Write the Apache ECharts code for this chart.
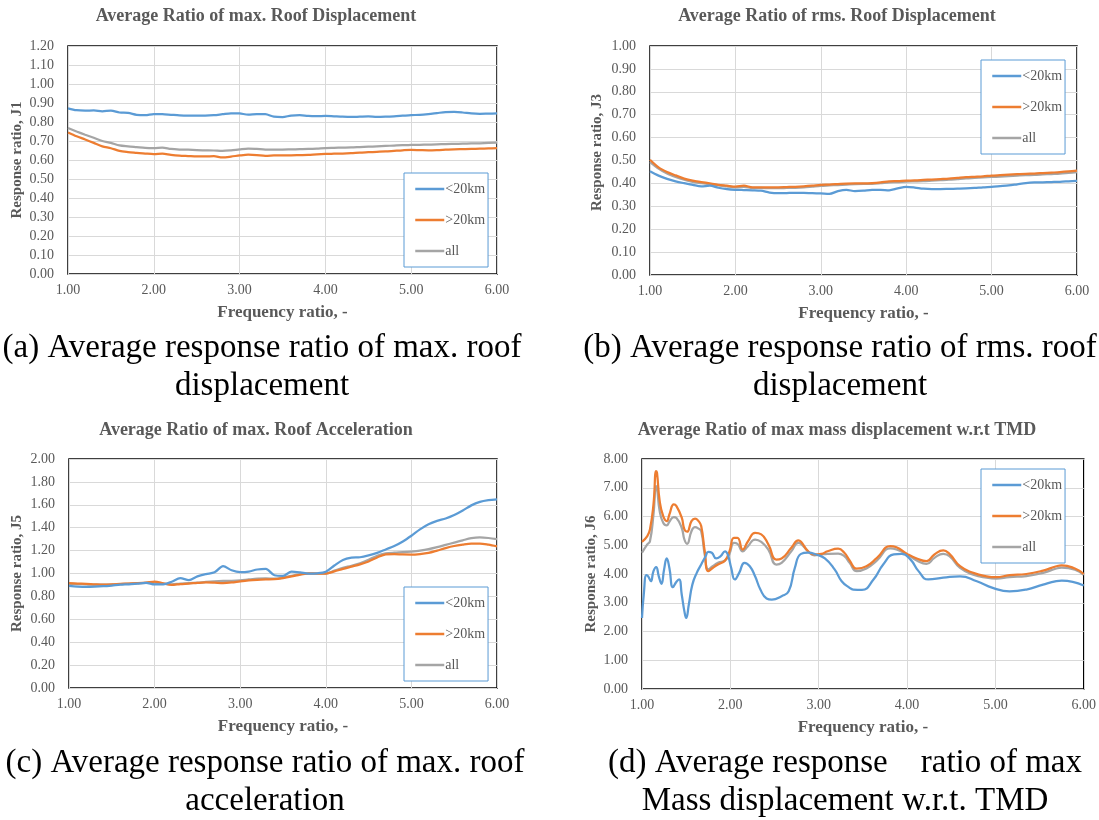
<!DOCTYPE html>
<html>
<head>
<meta charset="utf-8">
<script src="https://cdn.jsdelivr.net/npm/echarts@6/dist/echarts.min.js"></script>
<style>
html,body{margin:0;padding:0;background:#fff;}
#chart{width:1099px;height:820px;}
</style>
</head>
<body>
<div id="chart"></div>
<script>
// ---------- data ----------
const SERIES_NAMES = ['<20km', '>20km', 'all'];
const FREQ = [1.0,1.1,1.2,1.3,1.4,1.5,1.6,1.7,1.8,1.9,2.0,2.1,2.2,2.3,2.4,2.5,2.6,2.7,2.8,2.9,3.0,3.1,3.2,3.3,3.4,3.5,3.6,3.7,3.8,3.9,4.0,4.1,4.2,4.3,4.4,4.5,4.6,4.7,4.8,4.9,5.0,5.1,5.2,5.3,5.4,5.5,5.6,5.7,5.8,5.9,6.0];

// (a) max roof displacement J1
const A_NEAR = [0.872,0.862,0.860,0.861,0.856,0.860,0.850,0.848,0.838,0.836,0.842,0.841,0.838,0.835,0.834,0.834,0.834,0.836,0.841,0.846,0.845,0.839,0.842,0.841,0.828,0.826,0.834,0.836,0.832,0.831,0.832,0.830,0.828,0.827,0.828,0.829,0.827,0.828,0.830,0.833,0.836,0.838,0.842,0.847,0.852,0.853,0.850,0.845,0.843,0.844,0.845];
const A_FAR = [0.745,0.725,0.708,0.690,0.672,0.662,0.648,0.642,0.638,0.634,0.631,0.633,0.627,0.623,0.621,0.619,0.619,0.620,0.614,0.618,0.624,0.628,0.626,0.622,0.624,0.625,0.625,0.626,0.627,0.630,0.632,0.633,0.634,0.636,0.639,0.641,0.643,0.645,0.648,0.651,0.653,0.652,0.651,0.652,0.654,0.656,0.657,0.658,0.660,0.661,0.663];
const A_ALL = [0.768,0.750,0.733,0.717,0.700,0.690,0.677,0.672,0.668,0.664,0.663,0.665,0.658,0.655,0.654,0.652,0.651,0.650,0.648,0.651,0.656,0.660,0.658,0.655,0.655,0.655,0.656,0.657,0.658,0.660,0.663,0.664,0.665,0.666,0.668,0.670,0.672,0.674,0.676,0.678,0.679,0.680,0.681,0.682,0.684,0.685,0.686,0.687,0.688,0.690,0.691];

// (b) rms roof displacement J3
const B_NEAR = [0.453,0.434,0.420,0.409,0.401,0.394,0.387,0.390,0.381,0.375,0.372,0.371,0.370,0.368,0.360,0.357,0.358,0.359,0.359,0.357,0.356,0.354,0.366,0.372,0.366,0.368,0.372,0.372,0.370,0.378,0.385,0.382,0.377,0.375,0.375,0.376,0.377,0.378,0.380,0.383,0.385,0.388,0.391,0.396,0.401,0.404,0.405,0.406,0.407,0.409,0.411];
const B_FAR = [0.503,0.470,0.450,0.435,0.421,0.412,0.406,0.400,0.394,0.390,0.386,0.390,0.383,0.383,0.383,0.383,0.384,0.385,0.387,0.390,0.394,0.395,0.397,0.399,0.400,0.400,0.401,0.404,0.409,0.410,0.412,0.413,0.415,0.417,0.419,0.421,0.424,0.427,0.429,0.431,0.434,0.436,0.438,0.440,0.442,0.443,0.445,0.447,0.449,0.452,0.456];
const B_ALL = [0.493,0.465,0.443,0.428,0.416,0.407,0.401,0.396,0.391,0.387,0.383,0.385,0.380,0.380,0.379,0.379,0.380,0.381,0.383,0.386,0.389,0.391,0.393,0.395,0.397,0.398,0.398,0.401,0.405,0.406,0.408,0.409,0.410,0.412,0.414,0.416,0.419,0.422,0.424,0.426,0.428,0.430,0.432,0.434,0.436,0.437,0.439,0.441,0.443,0.446,0.449];

// (c) max roof acceleration J5
const C_NEAR = [0.892,0.886,0.883,0.885,0.889,0.895,0.902,0.906,0.912,0.918,0.904,0.905,0.928,0.960,0.942,0.975,0.995,1.010,1.065,1.028,1.012,1.017,1.035,1.040,0.985,0.980,1.016,1.010,1.000,1.002,1.015,1.070,1.118,1.138,1.142,1.158,1.180,1.210,1.240,1.280,1.330,1.385,1.430,1.460,1.480,1.510,1.550,1.595,1.625,1.640,1.648];
const C_FAR = [0.915,0.912,0.910,0.906,0.903,0.905,0.909,0.912,0.915,0.920,0.930,0.915,0.900,0.908,0.912,0.918,0.922,0.920,0.917,0.922,0.932,0.940,0.945,0.948,0.950,0.960,0.974,0.990,1.002,1.000,1.000,1.018,1.040,1.060,1.080,1.105,1.140,1.168,1.170,1.166,1.165,1.170,1.180,1.200,1.222,1.240,1.252,1.261,1.262,1.252,1.237];
const C_ALL = [0.910,0.908,0.905,0.902,0.902,0.904,0.907,0.911,0.915,0.918,0.920,0.912,0.905,0.912,0.915,0.920,0.927,0.932,0.935,0.936,0.940,0.948,0.955,0.957,0.955,0.965,0.980,0.992,1.000,1.000,1.000,1.025,1.050,1.068,1.090,1.120,1.155,1.175,1.182,1.186,1.192,1.200,1.212,1.230,1.250,1.270,1.290,1.308,1.315,1.310,1.300];

// (d) max mass displacement w.r.t. TMD J6
const D_FREQ = [1.00,1.06,1.09,1.13,1.16,1.17,1.20,1.24,1.28,1.31,1.36,1.39,1.45,1.48,1.51,1.56,1.60,1.64,1.67,1.71,1.75,1.80,1.86,1.94,1.99,2.04,2.08,2.14,2.20,2.28,2.35,2.43,2.52,2.58,2.69,2.77,2.80,2.88,2.95,3.03,3.10,3.22,3.29,3.35,3.43,3.54,3.66,3.81,3.88,4.00,4.11,4.22,4.31,4.41,4.48,4.60,4.75,4.90,5.01,5.16,5.35,5.54,5.69,5.75,5.90,6.00];
const D_FAR = [5.12,5.32,5.55,6.42,7.58,7.52,6.54,6.01,5.84,6.07,6.42,6.36,5.96,5.55,5.47,5.84,5.93,5.84,5.67,4.79,4.10,4.21,4.33,4.47,4.79,5.26,5.26,4.85,5.14,5.43,5.38,5.03,4.50,4.54,4.91,5.17,5.12,4.79,4.68,4.70,4.79,4.88,4.74,4.47,4.19,4.27,4.56,4.97,4.93,4.70,4.54,4.45,4.68,4.82,4.70,4.27,4.04,3.92,3.89,3.96,4.00,4.12,4.27,4.30,4.19,4.00];
const D_ALL = [4.74,5.03,5.14,6.07,7.06,7.00,6.19,5.78,5.69,5.82,5.98,5.95,5.60,5.20,5.05,5.49,5.63,5.58,5.49,4.68,4.16,4.27,4.39,4.47,4.70,5.08,5.05,4.79,4.97,5.20,5.12,4.85,4.33,4.39,4.79,5.08,5.05,4.79,4.65,4.68,4.70,4.71,4.62,4.39,4.10,4.19,4.47,4.89,4.85,4.68,4.47,4.35,4.56,4.70,4.62,4.21,3.98,3.87,3.84,3.89,3.93,4.04,4.19,4.22,4.15,3.97];
const D_NEAR_FREQ = [1.00,1.02,1.05,1.07,1.10,1.13,1.16,1.19,1.22,1.25,1.28,1.31,1.35,1.39,1.42,1.45,1.48,1.50,1.53,1.57,1.62,1.67,1.72,1.75,1.79,1.84,1.89,1.94,1.97,2.01,2.05,2.10,2.16,2.22,2.28,2.34,2.41,2.47,2.58,2.66,2.73,2.80,2.88,2.97,3.07,3.18,3.26,3.35,3.39,3.49,3.62,3.73,3.85,3.94,4.04,4.13,4.24,4.41,4.60,4.79,4.97,5.16,5.35,5.54,5.69,5.75,6.00];
const D_NEAR = [2.47,3.28,3.96,3.92,3.75,4.10,4.24,3.92,3.66,4.16,4.54,4.21,3.54,3.73,3.81,3.28,2.70,2.47,2.94,3.63,4.04,4.33,4.62,4.77,4.74,4.54,4.62,4.79,4.68,4.21,3.81,4.04,4.39,4.27,3.92,3.46,3.15,3.11,3.23,3.40,4.21,4.70,4.74,4.68,4.54,4.16,3.75,3.52,3.46,3.45,3.81,4.33,4.68,4.70,4.50,4.10,3.81,3.87,3.92,3.75,3.52,3.40,3.46,3.63,3.75,3.77,3.60];

const CHART_TITLES = ['Average Ratio of max. Roof Displacement','Average Ratio of rms. Roof Displacement','Average Ratio of max. Roof Acceleration','Average Ratio of max mass displacement w.r.t TMD'];
const Y_NAMES = ['Response ratio, J1','Response ratio, J3','Response ratio, J5','Response ratio, J6'];
const X_NAME = 'Frequency ratio, -';
const Y_MAX = [1.2, 1.0, 2.0, 8.0];
const Y_STEP = [0.1, 0.1, 0.2, 1.0];
const CAPTIONS = ['(a) Average response ratio of max. roof\ndisplacement','(b) Average response ratio of rms. roof\ndisplacement','(c) Average response ratio of max. roof\nacceleration','(d) Average response    ratio of max\nMass displacement w.r.t. TMD'];

// ---------- layout / style ----------
const FONT = '"Liberation Serif","Times New Roman",serif';
const GREY = '#595959';
const COLORS = ['#5B9BD5', '#ED7D31', '#A5A5A5'];
const GRIDS = [
  {left: 68, top: 46, width: 429, height: 228},
  {left: 650, top: 46, width: 427, height: 229},
  {left: 69, top: 459, width: 428, height: 229},
  {left: 642, top: 459, width: 444, height: 230}
];
const TITLE_POS = [[256, 16], [837, 16], [256, 430], [837, 430]];
const YNAME_GAP = [43, 45, 44, 43];
const YNAME_SHIFT = [0, 16, 0, 0];
const LEGEND_POS = [[404, 173], [981, 60], [404, 587], [981, 469]];
const CAPTION_POS = [[262, 367], [840, 367], [265, 782], [845, 782]];

const pair = (xs, ys) => xs.map((x, i) => [x, ys[i]]);
const DATA = [
  [pair(FREQ, A_NEAR), pair(FREQ, A_FAR), pair(FREQ, A_ALL)],
  [pair(FREQ, B_NEAR), pair(FREQ, B_FAR), pair(FREQ, B_ALL)],
  [pair(FREQ, C_NEAR), pair(FREQ, C_FAR), pair(FREQ, C_ALL)],
  [pair(D_NEAR_FREQ, D_NEAR), pair(D_FREQ, D_FAR), pair(D_FREQ, D_ALL)]
];

const option = {
  backgroundColor: '#fff',
  animation: false,
  title: [],
  grid: [],
  xAxis: [],
  yAxis: [],
  legend: [],
  series: []
};

for (let k = 0; k < 4; k++) {
  option.title.push({
    text: CHART_TITLES[k], left: TITLE_POS[k][0], top: TITLE_POS[k][1],
    textAlign: 'center', textVerticalAlign: 'middle', padding: 0,
    textStyle: {fontFamily: FONT, fontWeight: 'bold', fontSize: 18, color: GREY}
  });
  option.title.push({
    text: CAPTIONS[k], left: CAPTION_POS[k][0], top: CAPTION_POS[k][1],
    textAlign: 'center', textVerticalAlign: 'middle', padding: 0,
    textStyle: {fontFamily: FONT, fontWeight: 'normal', fontSize: 33, color: '#000', lineHeight: 38}
  });
  option.grid.push(Object.assign({show: true, borderColor: '#000', borderWidth: 1.5, backgroundColor: 'transparent', containLabel: false}, GRIDS[k]));
  option.xAxis.push({
    type: 'value', gridIndex: k, min: 1, max: 6, interval: 1,
    name: X_NAME, nameLocation: 'middle', nameGap: 30,
    nameTextStyle: {fontFamily: FONT, fontWeight: 'bold', fontSize: 17, color: GREY},
    axisLine: {show: false}, axisTick: {show: false},
    axisLabel: {formatter: v => v.toFixed(2), fontFamily: FONT, fontSize: 14, color: GREY, margin: 9},
    splitLine: {show: true, lineStyle: {color: '#d9d9d9', width: 1}}
  });
  option.yAxis.push({
    type: 'value', gridIndex: k, min: 0, max: Y_MAX[k], interval: Y_STEP[k],
    name: Y_NAMES[k], nameLocation: 'middle', nameGap: YNAME_GAP[k], nameRotate: 90,
    nameTextStyle: {fontFamily: FONT, fontWeight: 'bold', fontSize: 15, color: GREY, padding: [0, 0, 0, YNAME_SHIFT[k]]},
    axisLine: {show: false}, axisTick: {show: false},
    axisLabel: {formatter: v => v.toFixed(2), fontFamily: FONT, fontSize: 14, color: GREY, margin: 14},
    splitLine: {show: true, lineStyle: {color: '#d9d9d9', width: 1}}
  });
  option.legend.push({
    data: SERIES_NAMES, orient: 'vertical', left: LEGEND_POS[k][0], top: LEGEND_POS[k][1],
    itemWidth: 29, itemHeight: 14, itemGap: 17, padding: [9, 3, 9, 10],
    borderColor: '#5B9BD5', borderWidth: 1, backgroundColor: '#fff', borderRadius: 0,
    selectedMode: false,
    itemStyle: {opacity: 0, borderWidth: 0},
    lineStyle: {width: 2.5},
    textStyle: {fontFamily: FONT, fontSize: 14, color: GREY, padding: [0, 0, 0, -4]}
  });
  for (let s = 0; s < 3; s++) {
    option.series.push({
      type: 'line', name: SERIES_NAMES[s], xAxisIndex: k, yAxisIndex: k,
      data: DATA[k][s], symbol: 'none', showSymbol: false,
      smooth: k === 3 ? 0.5 : 0.3,
      color: COLORS[s],
      lineStyle: {color: COLORS[s], width: 2.25},
      z: s === 0 ? 4 : (s === 1 ? 3 : 2)
    });
  }
}

const chart = echarts.init(document.getElementById('chart'), null, {renderer: 'canvas'});
chart.setOption(option);
</script>
</body>
</html>
